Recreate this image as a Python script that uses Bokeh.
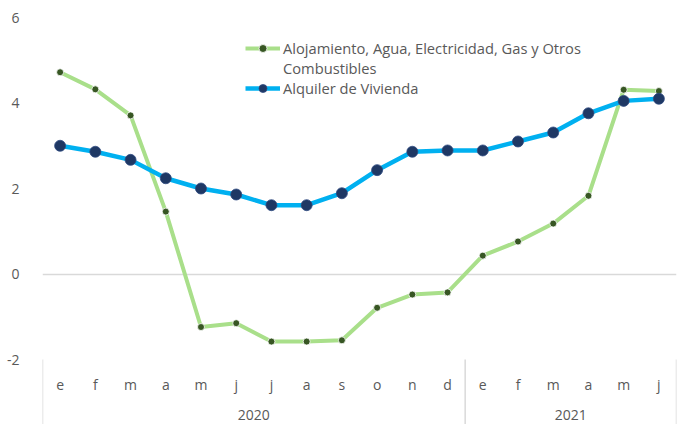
from bokeh.plotting import figure
from bokeh.models import Range1d, FixedTicker, Legend, LegendItem, ColumnDataSource
from bokeh.core.properties import value
from bokeh.embed import file_html
from bokeh.resources import INLINE

months = ["e", "f", "m", "a", "m", "j", "j", "a", "s", "o", "n", "d",
          "e", "f", "m", "a", "m", "j"]
years = ["2020"] * 12 + ["2021"] * 6
alojamiento = [4.72, 4.32, 3.71, 1.46, -1.24, -1.15, -1.58, -1.58, -1.55, -0.79, -0.48, -0.43,
               0.43, 0.76, 1.18, 1.83, 4.31, 4.28]
alquiler = [3.00, 2.86, 2.67, 2.24, 2.00, 1.86, 1.61, 1.61, 1.89, 2.43, 2.86, 2.89,
            2.89, 3.10, 3.31, 3.76, 4.05, 4.10]
y_ticks = [-2, 0, 2, 4, 6]
name_aloj_1 = "Alojamiento, Agua, Electricidad, Gas y Otros"
name_aloj_2 = "Combustibles"
name_alq = "Alquiler de Vivienda"

FONT = "Open Sans"
TXT = "#595959"
GRID = "#d9d9d9"

idx = list(range(len(months)))

p = figure(width=679, height=424, output_backend="svg", toolbar_location=None,
           x_range=Range1d(-0.5, len(months) - 0.5),
           y_range=Range1d(-3.52, 6.398),
           min_border_left=42, min_border_right=3, min_border_top=0, min_border_bottom=0)
p.outline_line_color = None
p.background_fill_color = "white"
p.border_fill_color = "white"
p.xaxis.visible = False
p.xgrid.visible = False
p.ygrid.ticker = FixedTicker(ticks=[0])
p.ygrid.grid_line_color = GRID
p.ygrid.grid_line_width = 1.5

ax = p.yaxis[0]
ax.ticker = FixedTicker(ticks=y_ticks)
ax.major_label_overrides = {t: str(t) for t in y_ticks}
ax.axis_line_color = None
ax.major_tick_line_color = None
ax.minor_tick_line_color = None
ax.major_label_text_color = TXT
ax.major_label_text_font = FONT
ax.major_label_text_font_size = "14px"
ax.major_label_standoff = 17

# category axis drawn as text inside the extended frame
y_month = -2.585
y_year = -3.287
p.text(x=idx, y=[y_month] * len(idx), text=months, text_align="center",
       text_baseline="middle", text_color=TXT, text_font=value(FONT), text_font_size="14px")

groups = []
for i, yr in enumerate(years):
    if not groups or groups[-1][0] != yr:
        groups.append([yr, i, i])
    else:
        groups[-1][2] = i
gx = [(g[1] + g[2]) / 2 for g in groups]
p.text(x=gx, y=[y_year] * len(gx), text=[g[0] for g in groups], text_align="center",
       text_baseline="middle", text_color=TXT, text_font=value(FONT), text_font_size="14px")
sep_x = [groups[0][1] - 0.5] + [g[2] + 0.5 for g in groups]
p.segment(x0=sep_x, x1=sep_x, y0=[y_ticks[0]] * len(sep_x), y1=[-3.6] * len(sep_x),
          line_color=GRID, line_width=1.5)

src = ColumnDataSource(dict(x=idx, a=alojamiento, b=alquiler))
l1 = p.line("x", "a", source=src, line_color="#a9df8a", line_width=4)
s1 = p.scatter("x", "a", source=src, size=7, fill_color="#375623",
               line_color="white", line_width=0.8)
l2 = p.line("x", "b", source=src, line_color="#00b0f0", line_width=4.5)
s2 = p.scatter("x", "b", source=src, size=11, fill_color="#1f3864",
               line_color="#2e4a80", line_width=0.8)
dummy = p.scatter([0], [0], size=0, alpha=0)

legend = Legend(items=[
    LegendItem(label=name_aloj_1, renderers=[l1, s1]),
    LegendItem(label=name_aloj_2, renderers=[dummy]),
    LegendItem(label=name_alq, renderers=[l2, s2]),
], location=(203, 326))
legend.background_fill_alpha = 0
legend.border_line_color = None
legend.padding = 0
legend.margin = 0
legend.spacing = 0
legend.glyph_width = 35
legend.glyph_height = 20
legend.label_height = 20
legend.label_standoff = 3
legend.label_text_font = FONT
legend.label_text_font_size = "14.7px"
legend.label_text_color = TXT
p.add_layout(legend)

open("out.html", "w").write(file_html(p, INLINE))
